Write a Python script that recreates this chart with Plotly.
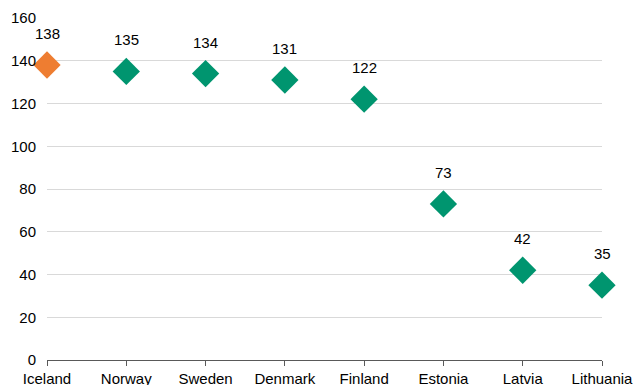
import plotly.graph_objects as go

countries = ["Iceland", "Norway", "Sweden", "Denmark", "Finland", "Estonia", "Latvia", "Lithuania"]
values = [138, 135, 134, 131, 122, 73, 42, 35]
y_ticks = [0, 20, 40, 60, 80, 100, 120, 140, 160]

ORANGE = "#EE7D31"
GREEN = "#00956F"
colors = [ORANGE] + [GREEN] * (len(countries) - 1)

FONT = "Liberation Sans, Arial"

fig = go.Figure()
fig.add_trace(go.Scatter(
    x=list(range(len(countries))),
    y=values,
    mode="markers",
    marker=dict(symbol="diamond", size=21, color=colors, line=dict(width=0)),
    cliponaxis=False,
    hoverinfo="skip",
    showlegend=False,
))

for i, v in enumerate(values):
    fig.add_annotation(
        x=i, y=v, text=str(v), showarrow=False,
        yanchor="bottom", yshift=21,
        font=dict(family=FONT, size=15, color="#000000"),
    )

fig.update_layout(
    width=634, height=385,
    margin=dict(l=47, r=32, t=18, b=25),
    paper_bgcolor="white", plot_bgcolor="white",
    font=dict(family=FONT, size=15, color="#000000"),
)
fig.update_xaxes(
    range=[0, len(countries) - 1],
    tickmode="array",
    tickvals=list(range(len(countries))),
    ticktext=countries,
    showgrid=False, zeroline=False,
    showline=True, linecolor="#595959", linewidth=1,
    ticks="outside", ticklen=5, tickcolor="#595959",
    ticklabelstandoff=0,
    automargin=False,
)
fig.update_yaxes(
    range=[0, 160],
    tickmode="array", tickvals=y_ticks,
    showgrid=True, gridcolor="#D9D9D9", gridwidth=1,
    zeroline=False, showline=False,
    ticks="", ticklabelstandoff=10,
    automargin=False,
)

fig.write_html("out.html")
